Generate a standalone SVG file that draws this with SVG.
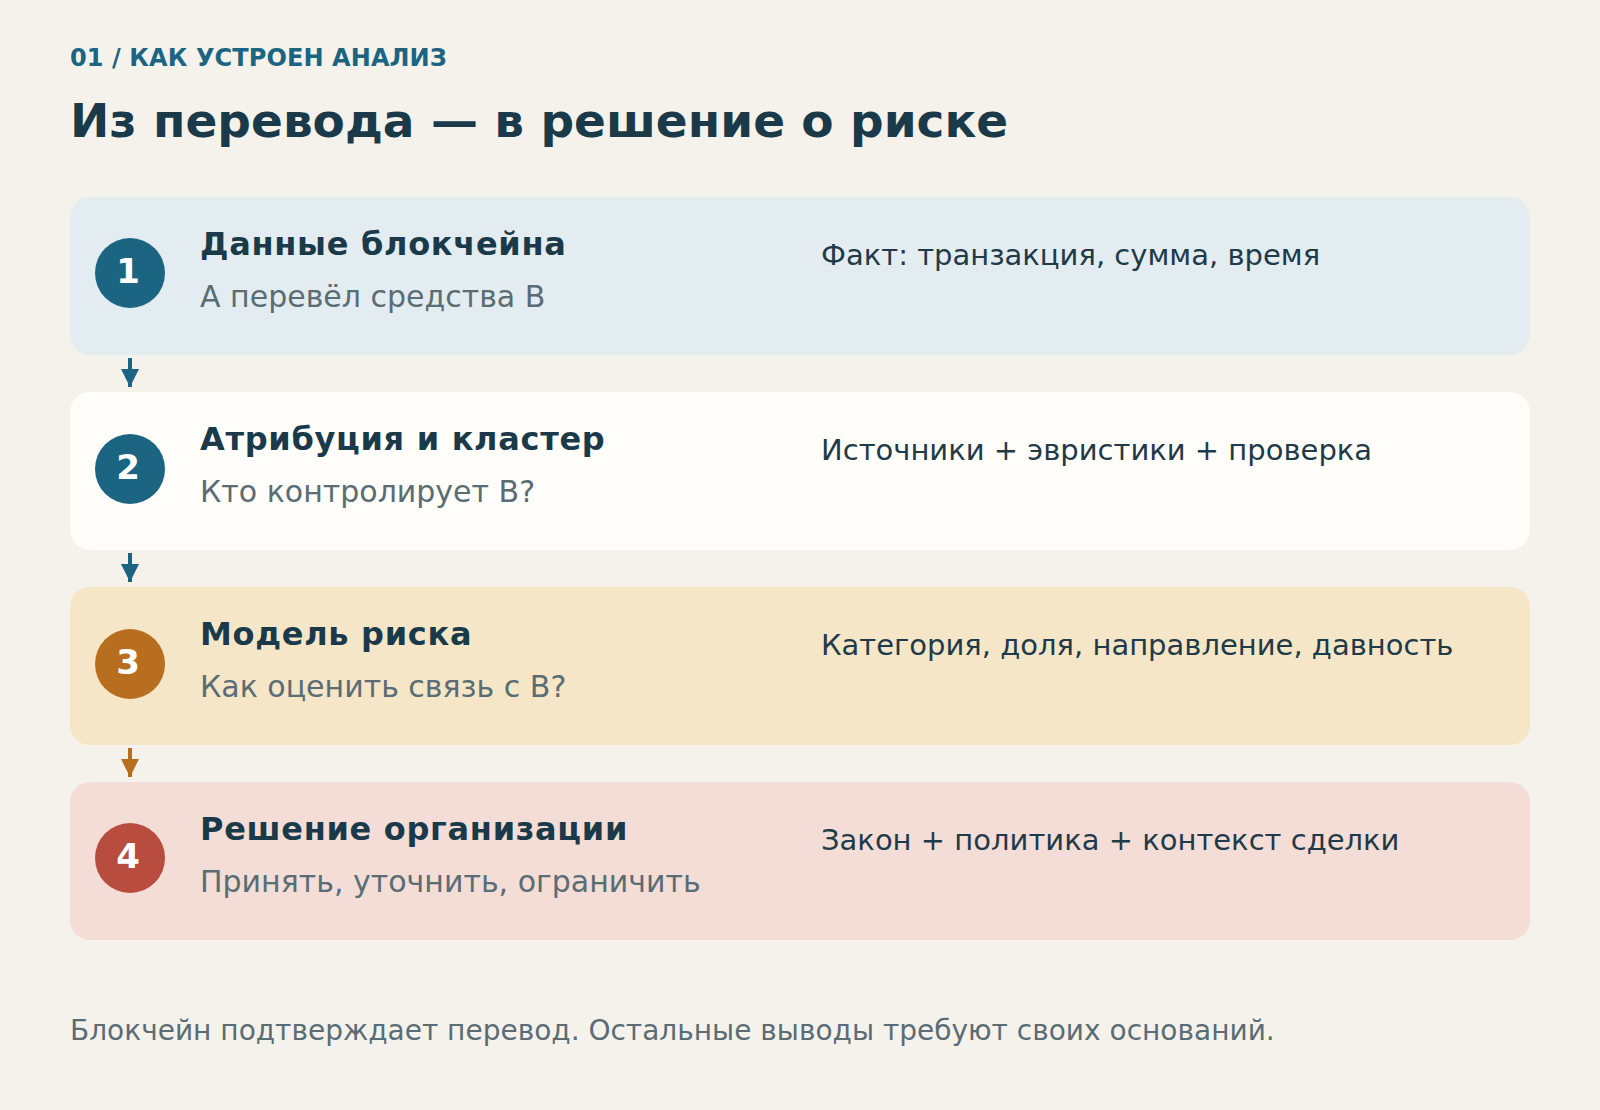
<svg xmlns="http://www.w3.org/2000/svg" width="1600" height="1110" viewBox="0 0 1600 1110">
<defs>
<style>
text{font-family:"DejaVu Sans","Noto Sans",sans-serif}
.lbl{font-size:24px;font-weight:bold;fill:#1b6482;letter-spacing:0.1px}
.ttl{font-size:47px;font-weight:bold;fill:#1a3a4a}
.bt{font-size:32px;font-weight:bold;fill:#1a3a4a;letter-spacing:0.7px}
.st{font-size:30px;fill:#5a6c74}
.rt{font-size:29px;fill:#1f3a48}
.ft{font-size:28px;fill:#5a6c74}
.num{font-size:34px;font-weight:bold;fill:#ffffff;text-anchor:middle}
</style>
<marker id="ah" markerWidth="18" markerHeight="18" viewBox="0 0 18 18" refX="18" refY="9" orient="auto" markerUnits="userSpaceOnUse">
<path d="M0,0 L18,9 L0,18 Z" fill="context-stroke"/>
</marker>
</defs>
<rect width="1600" height="1110" fill="#f5f2ec"/>
<text class="lbl" x="70" y="66">01 / КАК УСТРОЕН АНАЛИЗ</text>
<text class="ttl" x="70" y="137">Из перевода — в решение о риске</text>

<g id="step1">
<rect x="70" y="197" width="1460" height="158" rx="20" fill="#e3ecf0"/>
<circle cx="130" cy="273" r="35" fill="#1b6482"/>
<text class="num" x="128" y="283">1</text>
<text class="bt" x="200" y="255">Данные блокчейна</text>
<text class="st" x="200" y="307">А перевёл средства В</text>
<text class="rt" x="821" y="265">Факт: транзакция, сумма, время</text>
</g>
<g id="step2">
<rect x="70" y="392" width="1460" height="158" rx="20" fill="#fefdf9"/>
<circle cx="130" cy="469" r="35" fill="#1b6482"/>
<text class="num" x="128" y="479">2</text>
<text class="bt" x="200" y="450">Атрибуция и кластер</text>
<text class="st" x="200" y="502">Кто контролирует В?</text>
<text class="rt" x="821" y="460">Источники + эвристики + проверка</text>
</g>
<g id="step3">
<rect x="70" y="587" width="1460" height="158" rx="20" fill="#f5e6c8"/>
<circle cx="130" cy="664" r="35" fill="#b86e1f"/>
<text class="num" x="128" y="674">3</text>
<text class="bt" x="200" y="645">Модель риска</text>
<text class="st" x="200" y="697">Как оценить связь с В?</text>
<text class="rt" x="821" y="655">Категория, доля, направление, давность</text>
</g>
<g id="step4">
<rect x="70" y="782" width="1460" height="158" rx="20" fill="#f3ddd6"/>
<circle cx="130" cy="858" r="35" fill="#b84c3f"/>
<text class="num" x="128" y="868">4</text>
<text class="bt" x="200" y="840">Решение организации</text>
<text class="st" x="200" y="892">Принять, уточнить, ограничить</text>
<text class="rt" x="821" y="850">Закон + политика + контекст сделки</text>
</g>

<g id="connectors" stroke-width="4" fill="none">
<line x1="130" y1="358" x2="130" y2="387" stroke="#1b6482" marker-end="url(#ah)"/>
<line x1="130" y1="553" x2="130" y2="582" stroke="#1b6482" marker-end="url(#ah)"/>
<line x1="130" y1="748" x2="130" y2="777" stroke="#b86e1f" marker-end="url(#ah)"/>
</g>

<text class="ft" x="70" y="1040">Блокчейн подтверждает перевод. Остальные выводы требуют своих оснований.</text>
</svg>
